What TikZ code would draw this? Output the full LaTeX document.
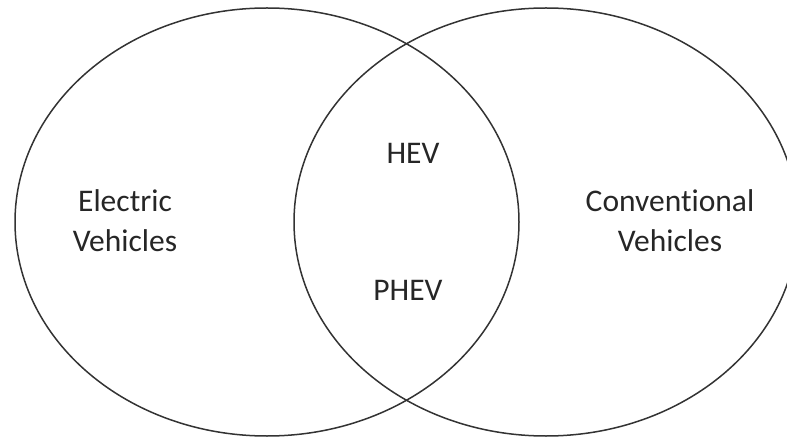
\documentclass[tikz,border=0pt]{standalone}
\usepackage{fontspec}
\setmainfont[Ligatures=NoCommon]{Carlito}
\begin{document}
\begin{tikzpicture}[x=1pt,y=-1pt,
  setline/.style={draw=black!80, line width=1.5pt},
  setlabel/.style={text=black!85, align=center, font=\fontsize{31.5}{40}\selectfont}]
\useasboundingbox (0,0) rectangle (787,438);
% the two overlapping sets
\draw[setline] (267,222) ellipse [x radius=252, y radius=214];
\draw[setline] (546,222) ellipse [x radius=252, y radius=214];
% labels
\node[setlabel] (ev) at (125,221) {Electric\\Vehicles};
\node[setlabel] (cv) at (670,221) {Conventional\\Vehicles};
\node[setlabel] (hev) at (413,153) {HEV};
\node[setlabel] (phev) at (408,290) {PHEV};
\end{tikzpicture}
\end{document}
